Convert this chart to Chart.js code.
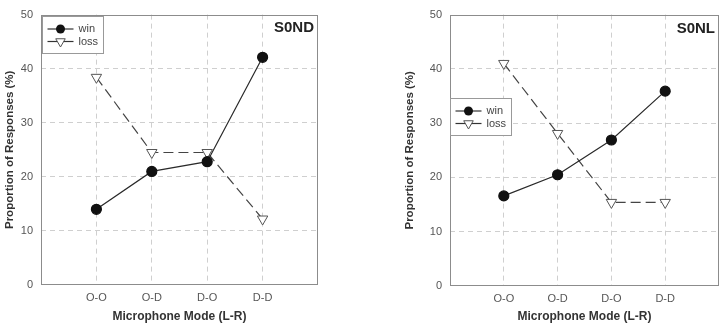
<!DOCTYPE html>
<html>
<head>
<meta charset="utf-8">
<script src="https://cdn.jsdelivr.net/npm/chart.js@4.4.1/dist/chart.umd.min.js"></script>
<style>
  html, body { margin: 0; padding: 0; background: #fff; }
  #wrap { position: relative; width: 726px; height: 329px; }
  .box { position: absolute; top: 0; height: 329px; }
</style>
</head>
<body>
<div id="wrap">
  <div class="box" style="left:0;width:330px"><canvas id="graficoND"></canvas></div>
  <div class="box" style="left:363px;width:363px"><canvas id="graficoNL"></canvas></div>
</div>
<script>
/* dados */
const modos = ['O-O', 'O-D', 'D-O', 'D-D'];
const winND  = [14.0, 21.0, 22.8, 42.1];
const lossND = [38.4, 24.5, 24.5, 12.2];
const winNL  = [16.6, 20.5, 26.9, 35.9];
const lossNL = [41.0, 28.1, 15.4, 15.4];
const yMin = 0, yMax = 50, yPasso = 10;

const FONTE = "'Liberation Sans', Arial, sans-serif";

function pontos(vals) {
  return vals.map((v, i) => ({ x: i, y: v }));
}

/* moldura, legenda interna e rótulo do painel */
const painel = {
  id: 'painel',
  beforeDatasetsDraw(chart) {
    const { ctx, chartArea: a } = chart;
    ctx.save();
    ctx.strokeStyle = '#8c8c8c';
    ctx.lineWidth = 1;
    ctx.strokeRect(Math.round(a.left) + .5, Math.round(a.top) + .5,
                   Math.round(a.width) - 1, Math.round(a.height) - 1);
    ctx.restore();
  },
  afterDraw(chart, args, opts) {
    const { ctx, chartArea: a } = chart;
    ctx.save();

    // rótulo
    ctx.font = 'bold 15px ' + FONTE;
    ctx.fillStyle = '#222';
    ctx.textAlign = 'right';
    ctx.textBaseline = 'middle';
    ctx.fillText(opts.rotulo, a.right - 4, a.top + opts.rotuloY);

    // legenda
    const bx = Math.round(a.left + opts.legX) + .5;
    const by = Math.round(a.top + opts.legY) + .5;
    ctx.fillStyle = '#fff';
    ctx.fillRect(bx, by, 61, 37);
    ctx.strokeStyle = '#999';
    ctx.lineWidth = 1;
    ctx.strokeRect(bx, by, 61, 37);

    chart.data.datasets.forEach((ds, i) => {
      const ly = by + 12.5 + i * 12.5;
      ctx.strokeStyle = '#333';
      ctx.lineWidth = 1.2;
      ctx.setLineDash([]);
      ctx.beginPath();
      ctx.moveTo(bx + 5, ly);
      ctx.lineTo(bx + 31, ly);
      ctx.stroke();
      const mx = bx + 18;
      if (ds.pointStyle === 'triangle') {
        const r = 5.5;
        ctx.beginPath();
        ctx.moveTo(mx, ly + r);
        ctx.lineTo(mx - r * 0.866, ly - r / 2);
        ctx.lineTo(mx + r * 0.866, ly - r / 2);
        ctx.closePath();
        ctx.fillStyle = '#fff';
        ctx.fill();
        ctx.strokeStyle = ds.pointBorderColor;
        ctx.lineWidth = 1;
        ctx.stroke();
      } else {
        ctx.beginPath();
        ctx.arc(mx, ly, 4.5, 0, Math.PI * 2);
        ctx.fillStyle = ds.pointBackgroundColor;
        ctx.fill();
      }
      ctx.fillStyle = '#444';
      ctx.font = '11px ' + FONTE;
      ctx.textAlign = 'left';
      ctx.textBaseline = 'middle';
      ctx.fillText(ds.label, bx + 36, ly);
    });
    ctx.restore();
  }
};

function criarGrafico(id, win, loss, cfg) {
  return new Chart(document.getElementById(id), {
    type: 'line',
    data: {
      datasets: [
        {
          label: 'win',
          data: pontos(win),
          borderColor: '#2a2a2a',
          borderWidth: 1.2,
          pointStyle: 'circle',
          pointRadius: 5,
          pointBackgroundColor: '#111',
          pointBorderColor: '#111',
          tension: 0
        },
        {
          label: 'loss',
          data: pontos(loss),
          borderColor: '#444',
          borderWidth: 1.2,
          borderDash: [10, 5],
          pointStyle: 'triangle',
          pointRotation: 180,
          pointRadius: 6,
          pointBackgroundColor: '#fff',
          pointBorderColor: '#555',
          pointBorderWidth: 1,
          tension: 0
        }
      ]
    },
    options: {
      responsive: true,
      maintainAspectRatio: false,
      animation: false,
      layout: { padding: cfg.padding },
      plugins: {
        legend: { display: false },
        tooltip: { enabled: false },
        painel: cfg.painel
      },
      scales: {
        x: {
          type: 'linear',
          min: -1,
          max: modos.length,
          afterFit: s => { s.height = cfg.alturaX; },
          afterBuildTicks: s => {
            s.ticks = [];
            for (let i = -1; i <= modos.length; i++) s.ticks.push({ value: i });
          },
          ticks: {
            padding: 6,
            color: '#555',
            font: { family: FONTE, size: 11 },
            callback: v => modos[v] || ''
          },
          grid: {
            drawTicks: false,
            color: c => (c.tick && c.tick.value >= 0 && c.tick.value < modos.length) ? '#cfcfcf' : 'rgba(0,0,0,0)',
            lineWidth: 1
          },
          border: { display: false, dash: [5, 4] },
          title: {
            display: true,
            text: 'Microphone Mode (L-R)',
            color: '#333',
            font: { family: FONTE, size: 12, weight: 'bold' },
            padding: { top: 4, bottom: 5 }
          }
        },
        y: {
          min: yMin,
          max: yMax,
          afterFit: s => { s.width = cfg.larguraY; },
          ticks: {
            stepSize: yPasso,
            padding: 8,
            color: '#555',
            font: { family: FONTE, size: 11 }
          },
          grid: {
            drawTicks: false,
            color: c => (c.tick && c.tick.value > yMin && c.tick.value < yMax) ? '#cfcfcf' : 'rgba(0,0,0,0)',
            lineWidth: 1
          },
          border: { display: false, dash: [5, 4] },
          title: {
            display: true,
            text: 'Proportion of Responses (%)',
            color: '#333',
            font: { family: FONTE, size: 11.5, weight: 'bold' },
            padding: { top: 3, bottom: 0 }
          }
        }
      }
    },
    plugins: [painel]
  });
}

criarGrafico('graficoND', winND, lossND, {
  padding: { left: 0, right: 12, top: 9, bottom: 0 },
  alturaX: 44,
  larguraY: 41,
  painel: { rotulo: 'S0ND', rotuloY: 13, legX: 1, legY: 1 }
});

criarGrafico('graficoNL', winNL, lossNL, {
  padding: { left: 37, right: 5, top: 14, bottom: 0 },
  alturaX: 43,
  larguraY: 50,
  painel: { rotulo: 'S0NL', rotuloY: 14, legX: 0, legY: 83 }
});
</script>
</body>
</html>
